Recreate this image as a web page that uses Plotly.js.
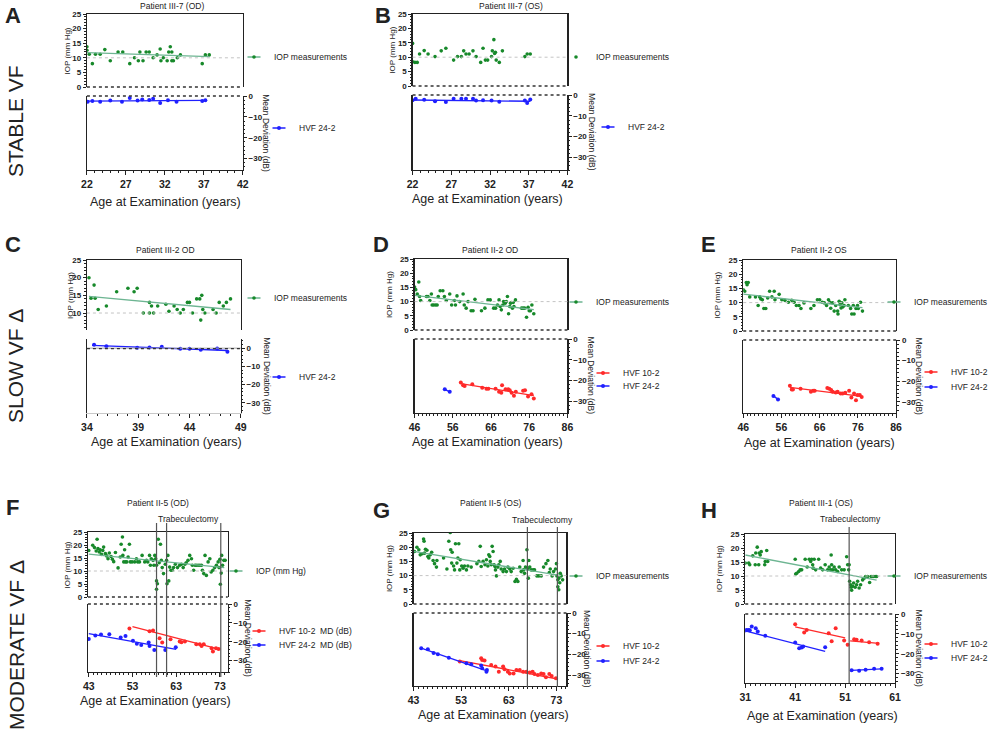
<!DOCTYPE html>
<html lang="en">
<head>
<meta charset="UTF-8">
<title>IOP and visual field over age</title>
<script src="https://cdn.plot.ly/plotly-3.0.1.min.js"></script>
<style>
    body { margin: 0; background: white; }
    #chart { width: 993px; height: 736px; }
</style>
</head>
<body>
<div id="chart"></div>
<script>
// ---------- values ----------
// A: Patient III-7 (OD)
const aIopAge = [22,22,22.3,22.7,23.1,23.7,24.3,25,26,26.6,27.5,28.1,28.6,28.8,29.2,29.6,30,30.5,31,31.4,31.5,31.8,32.3,32.5,32.7,32.9,32.9,33.1,33.6,34,36.8,37.2,37.7];
const aIopVal = [13.8,12.6,11.2,8,11.2,11.2,12.8,9,12,12,8,10,9,12,9,12,12,10,11,13,9,10,9,12,13.8,12,9,9,10,11,8,11,11];
const aIopFitAge = [22, 37.7];
const aIopFitVal = [11.8, 10.4];
const a24Age = [22.1,22.7,23.7,25,26.5,27.5,28.5,29.1,30,30.5,31.4,32.4,33.5,36.8,37.2];
const a24Val = [-2.7,-2.4,-2.8,-2.2,-2.7,-1,-2.2,-1.7,-1.9,-1.3,-3.3,-2,-2.8,-2.4,-2];
const a24FitAge = [22, 37.2];
const a24FitVal = [-2.5, -2.1];

// B: Patient III-7 (OS)
const bIopAge = [22,22,22.3,22.6,22.9,23.5,24,24.9,25.7,26.3,27.3,27.8,28.3,28.6,28.9,29.3,29.8,30.2,30.8,31.1,31.4,31.7,32.2,32.3,32.5,32.6,32.7,32.8,33.2,33.6,36.5,36.8,37.2];
const bIopVal = [14.8,8.4,8.2,8.2,11.1,12.3,11.1,10.2,12.2,13.1,9,10.2,10.2,12.2,11.1,11.1,12.2,10.2,8.2,13.1,9,9,10.2,12.2,16.1,11.3,11.7,9,8.2,12.2,10.2,11.1,11.1];
const b24Age = [22,22.4,23.5,24.9,26.3,27.3,28.3,28.9,29.8,30.2,31.1,32.2,33.2,36.5,36.8,37.2];
const b24Val = [-2.5,-1.8,-2.3,-3,-3.4,-1.8,-1.8,-1.8,-1.8,-2.6,-2.5,-2.6,-3.3,-2.6,-3.8,-2.1];
const b24FitAge = [22, 37.2];
const b24FitVal = [-2.4, -3];

// C: Patient III-2 OD
const cIopAge = [34.2,34.4,34.7,34.8,35.1,35.9,36.9,38,38.6,38.9,39.5,40.1,40.1,40.3,40.5,40.9,41.7,42,42.5,42.8,43.1,43.4,43.8,44,44.3,44.7,45,45.1,45.2,45.3,45.5,46.3,46.6,46.9,47.3,47.6,48];
const cIopVal = [20,14.2,17.9,14.2,11,12,16,17,16,17,10,10,13,12,10,12,12.5,10.5,12,11,10,11,13,13,10,14,14,8,15,11,10,11,10,13,12,13,14];
const cIopFitAge = [34.2, 48];
const cIopFitVal = [14.7, 11];
const c24Age = [34.7,35.9,38.9,40.1,41.3,43.1,44,45.1,46.7,47.7];
const c24Val = [1.8,1.1,0.2,0.4,0.7,-0.4,-0.4,-0.9,-0.2,-2];
const c24FitAge = [34.5, 47.7];
const c24FitVal = [1.5, -1.3];

// D: Patient II-2 OD
const dIopAge = [46,46.3,46.7,47.1,47.3,47.6,49.1,49.5,50,50.4,50.6,51,51.5,51.9,52.2,52.7,53.4,53.8,54.3,55.2,55.7,56.4,56.7,57.1,57.8,58.7,59,59.5,60,60.8,61.3,61.8,63.5,64.4,65.2,65.8,66.7,67.2,67.7,68.1,68.4,68.7,69.1,69.3,69.7,70,70.3,70.6,70.9,71.1,71.3,71.6,71.8,72,72.4,74,74.4,74.8,75.3,75.7,76,76.3,76.7,77.2];
const dIopVal = [15.1,14.2,12.7,16.9,11.8,10.4,11.8,11.8,10.4,12.7,8.8,8.8,8.8,8.8,11.8,13.8,13.8,11.8,10.4,12.7,8.8,10.4,8.8,12,10,12.7,8.8,7.7,10,6.8,6.8,10.8,6.8,7.7,10.6,10.6,7.7,7.7,8.8,10.6,8.3,7.1,8.8,10,9.4,10,11.8,5.7,8.3,9.4,9.7,7.7,9.7,8.3,10.6,7.7,7.7,7.7,4.5,8,6.8,6.8,8.8,5.7];
const dIopFitAge = [46, 77.2];
const dIopFitVal = [12.2, 7.2];
const d10Age = [58.1,58.7,59.1,61.1,63.7,64.8,65.3,67.2,68.1,68.7,68.9,69.8,70.5,70.9,71.4,72,72.5,74.4,74.9,75.7,76.6,77.2];
const d10Val = [-20.9,-22.2,-22.6,-21.8,-23.4,-23.9,-23.9,-23.9,-25.4,-25.8,-22.3,-24.2,-24.2,-24.6,-25.8,-27.3,-25.4,-24.9,-24.6,-27.7,-26.6,-28.6];
const d10FitAge = [58.1, 77.2];
const d10FitVal = [-21.5, -27.2];
const d24Age = [53.9, 55.2];
const d24Val = [-24.2, -25.4];

// E: Patient II-2 OS
const eIopAge = [46,46.4,46.8,47,47.3,47.7,49.2,49.9,50.3,50.6,51,51.4,51.9,52.4,52.9,53.5,54.1,54.3,55.4,56.1,56.9,57.8,58.7,59.3,59.9,60.6,61.1,61.9,63.7,64.5,65.4,66,66.7,67.2,67.8,68.3,68.7,68.9,69.4,69.8,70.2,70.7,70.8,71.1,71.3,71.6,71.8,72.1,72.4,72.6,73.5,74.1,74.4,74.8,75,75.5,75.9,76.1,76.7,77.2];
const eIopVal = [14.5,14,17.1,16.3,17.1,12,12,9,12,11.3,11,7.9,7.9,11.6,14,12,14,11,12.9,11,10.8,10.1,10.8,10.1,9,9,7.9,9.9,7.9,9,11,11,10.1,9.9,9,11,10.1,8,9.9,7,9,7,6,10.5,9.3,8.1,9.9,8.5,9,11,9,7.9,6,9,6,7.9,9,7.9,10.1,7];
const eIopFitAge = [46, 77.2];
const eIopFitVal = [13, 8.2];
const e10Age = [58.2,58.7,59,61,63.7,64.3,64.7,68,68.5,69,69.4,70.2,70.7,71.5,72,72.7,73.7,74.3,75,75.5,75.9,76.5,77];
const e10Val = [-22.2,-24,-24,-23.7,-25.1,-24.6,-24.6,-23.3,-23.7,-24.3,-25.1,-25.4,-25.1,-25.9,-25.9,-25.6,-24.6,-27.9,-25.9,-29.2,-26.7,-26.7,-27.6];
const e10FitAge = [58.2, 77];
const e10FitVal = [-23, -27.3];
const e24Age = [53.9, 55.1];
const e24Val = [-27.1, -28.8];

// F: Patient II-5 (OD)
const fIopAge = [43,43.9,44.3,44.7,44.9,45.1,45.4,45.6,45.9,46.2,46.4,46.8,47.1,47.4,47.7,48.1,48.4,48.7,49.1,49.7,50.2,50.4,50.7,50.8,51,51.2,51.4,51.7,52,52.3,52.5,52.9,53.5,53.9,54.2,54.6,55.2,55.8,56.2,56.5,56.9,57.1,57.3,57.7,57.9,58.1,58.3,58.5,58.5,58.5,58.7,58.9,59.1,59.4,59.6,59.8,60.1,60.5,60.8,60.9,61.1,61.3,61.5,61.8,62.1,62.4,62.8,63.3,63.8,64.2,64.6,65,65.3,65.7,66.1,66.5,66.7,67,67.3,67.6,68,68.4,68.8,69,69.3,69.6,69.9,70.3,70.7,71,71.4,71.8,72.2,72.6,72.8,73,73.1,73.3,73.4,73.6,73.9,74.2];
const fIopVal = [17.9,19.9,19,17.7,22.2,18.6,17.3,18.2,16.4,17.9,19.2,16.7,15.8,14.7,16.9,15.6,14.5,13.6,17.1,11.2,15.4,20.3,23.1,16,13.5,18.2,13.5,13.5,15.4,20.3,13.5,13.5,13.5,14.7,13.5,13.5,16,13.5,14.1,13.5,16,12.2,14.7,14.1,12.2,16,14.7,12.2,6.2,3,5.1,22.2,13.2,20.3,14.1,11.3,9,12.6,14.1,5.1,16,6.2,11.5,10.3,10.3,11.3,12.6,11.3,12.2,12.6,11.3,12.6,13.2,14.1,16,14.7,12.2,10.3,12.2,12.2,12.2,12.2,12.2,10.3,9,16,8.3,13.5,14.7,9.6,10.3,11.3,12.2,13.5,11.3,14.5,4.9,9.2,16,12.2,14.1,14.1];
const fIopFitAge = [43, 74];
const fIopFitVal = [16.5, 11.3];
const f10Age = [52.3,56.9,57.7,59.2,59.8,61.7,63.8,64.2,65,67.6,68.4,68.8,69.3,71.1,71.4,72.1,72.7];
const f10Val = [-13,-14.4,-14,-18.1,-20.4,-18.7,-19.9,-20.2,-19.9,-21.3,-21.3,-22.2,-21.3,-23.4,-25.2,-23.4,-23.8];
const f10FitAge = [53, 73];
const f10FitVal = [-12, -24];
const f24Age = [43,44.5,45.8,47.7,50.3,51.4,53.1,54,55,56.7,56.9,58,60.5,62.9];
const f24Val = [-18.5,-16.7,-16.2,-16,-17.8,-16.9,-19.4,-21.1,-21.7,-20.4,-22.2,-24.3,-24.3,-22.9];
const f24FitAge = [43, 63];
const f24FitVal = [-15.7, -24];
const fSurgeryAge = [58.5, 60.8, 73.2];

// G: Patient II-5 (OS)
const gIopAge = [43.2,43.7,44.1,44.4,44.8,45.1,45.2,45.3,45.5,45.8,46,46.2,46.5,46.8,47.1,47.4,47.8,47.9,49.3,50,50.4,50.7,50.8,51,51.1,51.4,51.6,51.8,52.1,52.3,52.5,52.7,52.8,53.1,53.4,53.7,54.1,54.4,55.1,56.3,56.7,57,57.2,57.6,58,58.3,58.6,58.8,59,59.1,59.3,59.5,59.7,59.9,60.1,60.2,60.4,60.7,60.9,61.2,61.4,61.8,62.1,62.5,62.8,63.2,63.5,63.9,64.3,64.6,64.9,65.3,65.6,66,66.1,66.3,66.5,66.8,67,67.1,67.2,67.4,67.7,68.1,68.4,68.9,69.3,69.8,70.3,70.8,71.2,71.5,71.7,72.1,72.4,72.8,73,73.1,73.3,73.3,73.5,73.5,73.7,73.8,74,74.3];
const gIopVal = [18.5,20,19.1,17.3,17.7,22.9,22.1,17.9,19.3,18.9,16.7,16.2,17.3,18.2,15.3,14.2,13,15.3,16.2,12.3,22.1,25.2,19.1,14.4,18.2,13.4,12,21.2,14.4,16.2,21.2,12,15.6,13.4,12.6,13.4,12,13.4,13,14.2,15,20.3,13.2,15,13.8,15.6,13.4,17.3,16.7,15,13.8,20.3,18.5,13.8,13.2,12,9.9,13,13.8,15,12.3,11.4,12.3,11.4,13,12.3,11.4,12.6,7.9,8.7,7.9,13,11.4,15.3,12,10.8,13,19.1,12.3,9.1,15.3,13,12,12,12,9.9,9.9,9.9,13,14.2,15.3,11.1,12.3,9.9,11.4,12.3,14.2,9.9,8.5,6.1,9.1,5,7.5,10.8,9.9,8.5];
const gIopFitAge = [43, 74];
const gIopFitVal = [18.5, 10];
const g10Age = [52.7,57.2,57.4,57.9,59.3,60.2,60.9,61.8,62.1,62.8,63.2,64,64.6,65.3,66,66.7,67.4,68,68.4,69.1,69.8,70.3,70.8,71.5,72,72.9];
const g10Val = [-23.5,-21.9,-22.7,-23,-25.1,-25.9,-28.4,-25.9,-27.2,-28.4,-29.2,-29.2,-27.6,-27.6,-28.4,-28.4,-28.8,-28.4,-29.5,-30,-29.2,-29.5,-31.1,-29.5,-30.5,-31.6];
const g10FitAge = [52.7, 73];
const g10FitVal = [-23, -31.8];
const g24Age = [44.6,46,47.2,48.1,50.4,54.1,55.1,57.2,57.4,58.3,58.4];
const g24Val = [-17,-17.5,-19.4,-19.9,-21.6,-24.3,-24.8,-25.4,-26.7,-28.4,-27.6];
const g24FitAge = [44.6, 58.4];
const g24FitVal = [-17, -28];
const gSurgeryAge = [66.9, 73.2];

// H: Patient III-1 (OS)
const hIopAge = [31,31.7,31.9,32.5,33,33.1,33.4,33.7,33.8,34,34.2,34.9,35,35.3,35.5,41,41.1,41.3,41.7,42,42.3,43,43.4,43.8,44.1,44.3,44.5,44.6,44.8,45.1,45.7,46.1,46.5,47,47.5,47.8,48.1,48.2,48.3,48.5,48.8,49.1,49.5,49.8,50.3,50.8,51.3,51.5,51.7,51.8,51.9,52.1,52.2,52.3,52.5,52.7,53,53.3,53.5,53.8,54.1,54.5,54.8,55.1,55.5,55.9,56.2,56.6,57,57.3];
const hIopVal = [14.6,14.6,14,17.2,14,18.2,20.3,14,18.2,17.5,18.7,14,15.2,19.1,15.2,16,10.7,11,11.6,12.2,12.2,16,13.2,16,15.2,16,14,12.8,16,12.2,16,12.8,12.2,14,12.2,13.2,12.2,17.5,14,12.2,13.2,12.2,11.6,13.2,12.2,12.2,16.9,14,12.2,14,8.1,6.9,6,4.9,6.3,7.5,6,6.9,8.1,5.7,6.9,8.6,9.2,9.8,9.8,7.7,9.8,9.8,9.8,9.8];
const hIopFitAge = [31, 57.3];
const hIopFitVal = [17.5, 8.5];
const h10Age = [41,42.8,43.3,47.7,48.3,49.1,50.8,51.5,52.8,53.3,54.3,55.8,57.5];
const h10Val = [-5.2,-9.3,-8,-9.7,-13.7,-7.2,-13.3,-15.5,-12.7,-13,-13.3,-14.2,-15];
const h10FitAge = [41, 51, null, 52, 57.8];      // before / after surgery
const h10FitVal = [-6.5, -12, null, -13.5, -14.8];
const h24Age = [31,31.3,31.7,31.9,32.3,33.1,33.5,35,41,41.8,42.3,42.6,47,52.3,53.8,55.1,56.8,58.3];
const h24Val = [-8.3,-8,-8,-8.2,-6.3,-7.2,-8.8,-11,-14.3,-17.2,-16.8,-16.3,-16.7,-28.3,-28.5,-28,-27.5,-27.5];
const h24FitAge = [31, 47, null, 52.3, 58.3];
const h24FitVal = [-8.5, -18.8, null, -28.4, -27.6];
const hSurgeryAge = [51.8];

const rowLabels = ['STABLE VF', 'SLOW VF \u0394', 'MODERATE VF \u0394'];

// ---------- styling / placement ----------
const W = 993, H = 736;
const FONT = 'Arial, "Liberation Sans", sans-serif';
const LEGEND_SIZE = 8.5;
const GREEN = '#17892a', GREEN_FIT = '#6db592';
const BLUE = '#2020ff', RED = '#ff2a2a';
const INK = '#222';
// legend key: only the middle 13px of plotly's 30px key line is drawn
const KEY_DASH = '0px,8.5px,13px,100px';

function px(x) { return x / W; }
function py(y) { return 1 - y / H; }

const iop = (x, y, fx, fy, name, at) => ({ sub: 'top', name, x, y, color: GREEN, fitX: fx, fitY: fy, fitColor: GREEN_FIT, at });
const md = (x, y, fx, fy, name, color, at) => ({ sub: 'bot', name, x, y, color, fitX: fx, fitY: fy, fitColor: color, at });

const panels = [
    { letter: 'A', letterAt: [13, 16], title: 'Patient III-7 (OD)', titleAt: [172, 6],
      L: 87, R: 243, top: [14, 87], bot: [96, 170], xRange: [22, 42], tick0: 22, dtick: 5,
      iopRange: [0, 25], mdRange: [-35.5, 0], leftT: 68, rightT: 266, xTitleAt: [166, 202],
      series: [iop(aIopAge, aIopVal, aIopFitAge, aIopFitVal, 'IOP measurements', [268, 57]),
               md(a24Age, a24Val, a24FitAge, a24FitVal, 'HVF 24-2', BLUE, [293, 128])] },
    { letter: 'B', letterAt: [383, 16], title: 'Patient III-7 (OS)', titleAt: [512, 6],
      L: 413, R: 568, top: [14, 86], bot: [95, 170], xRange: [22, 42], tick0: 22, dtick: 5,
      iopRange: [0, 25], mdRange: [-36, 0], leftT: 392, rightT: 593, xTitleAt: [488, 199],
      series: [iop(bIopAge, bIopVal, null, null, 'IOP measurements', [590, 57]),
               md(b24Age, b24Val, b24FitAge, b24FitVal, 'HVF 24-2', BLUE, [622, 127])] },
    { letter: 'C', letterAt: [13, 245], title: 'Patient III-2 OD', titleAt: [166, 250],
      L: 87, R: 241, top: [260, 330], bot: [339, 413], xRange: [34, 49], tick0: 34, dtick: 5,
      iopRange: [5.2, 25], mdRange: [-35.5, 5], leftT: 70, rightT: 267, xTitleAt: [167, 442],
      broken: false, zeroLine: true,
      series: [iop(cIopAge, cIopVal, cIopFitAge, cIopFitVal, 'IOP measurements', [268, 298]),
               md(c24Age, c24Val, c24FitAge, c24FitVal, 'HVF 24-2', BLUE, [293, 377])] },
    { letter: 'D', letterAt: [381, 245], title: 'Patient II-2 OD', titleAt: [490, 250],
      L: 415, R: 568, top: [259, 330], bot: [339, 413], xRange: [46, 86], tick0: 46, dtick: 10,
      iopRange: [0, 25], mdRange: [-35.6, 0], leftT: 390, rightT: 592, xTitleAt: [488, 442],
      series: [iop(dIopAge, dIopVal, dIopFitAge, dIopFitVal, 'IOP measurements', [590, 302]),
               md(d10Age, d10Val, d10FitAge, d10FitVal, 'HVF 10-2', RED, [617, 373]),
               md(d24Age, d24Val, d24Age, d24Val, 'HVF 24-2', BLUE, [617, 386])] },
    { letter: 'E', letterAt: [709, 245], title: 'Patient II-2 OS', titleAt: [820, 250],
      L: 744, R: 897, top: [260, 331], bot: [340, 413], xRange: [46, 86], tick0: 46, dtick: 10,
      iopRange: [0, 25], mdRange: [-35.4, 0], leftT: 718, rightT: 920, xTitleAt: [820, 443],
      series: [iop(eIopAge, eIopVal, eIopFitAge, eIopFitVal, 'IOP measurements', [922, 302]),
               md(e10Age, e10Val, e10FitAge, e10FitVal, 'HVF 10-2', RED, [948, 372]),
               md(e24Age, e24Val, e24Age, e24Val, 'HVF 24-2', BLUE, [948, 387])] },
    { letter: 'F', letterAt: [13, 508], title: 'Patient II-5 (OD)', titleAt: [158, 503],
      L: 88, R: 228, top: [532, 597], bot: [604, 672], xRange: [42.8, 74.8], tick0: 43, dtick: 10,
      iopRange: [0, 25], mdRange: [-36, 0], leftT: 68, rightT: 248, xTitleAt: [156, 701],
      surgery: fSurgeryAge, surgerySpan: [523, 677], trabAt: [189, 519],
      series: [iop(fIopAge, fIopVal, fIopFitAge, fIopFitVal, 'IOP (mm Hg)', [250, 571]),
               md(f10Age, f10Val, f10FitAge, f10FitVal, 'HVF 10-2  MD (dB)', RED, [273, 631]),
               md(f24Age, f24Val, f24FitAge, f24FitVal, 'HVF 24-2  MD (dB)', BLUE, [273, 645])] },
    { letter: 'G', letterAt: [382, 510], title: 'Patient II-5 (OS)', titleAt: [491, 503],
      L: 414, R: 567, top: [533, 604], bot: [613, 686], xRange: [43, 75.1], tick0: 43, dtick: 10,
      iopRange: [0, 25], mdRange: [-35.3, 0], leftT: 390, rightT: 588, xTitleAt: [494, 715],
      surgery: gSurgeryAge, surgerySpan: [527, 687], trabAt: [543, 520],
      series: [iop(gIopAge, gIopVal, gIopFitAge, gIopFitVal, 'IOP measurements', [590, 576]),
               md(g10Age, g10Val, g10FitAge, g10FitVal, 'HVF 10-2', RED, [617, 646]),
               md(g24Age, g24Val, g24FitAge, g24FitVal, 'HVF 24-2', BLUE, [617, 661])] },
    { letter: 'H', letterAt: [710, 510], title: 'Patient III-1 (OS)', titleAt: [822, 503],
      L: 746, R: 896, top: [534, 604], bot: [614, 683], xRange: [31, 61], tick0: 31, dtick: 10,
      iopRange: [0, 25], mdRange: [-34.7, 0], leftT: 720, rightT: 920, xTitleAt: [823, 716],
      surgery: hSurgeryAge, surgerySpan: [527, 683], trabAt: [851, 519],
      series: [iop(hIopAge, hIopVal, hIopFitAge, hIopFitVal, 'IOP measurements', [913, 576]),
               md(h10Age, h10Val, h10FitAge, h10FitVal, 'HVF 10-2', RED, [948, 644]),
               md(h24Age, h24Val, h24FitAge, h24FitVal, 'HVF 24-2', BLUE, [948, 658])] }
];
const rowLabelAt = [[16, 121], [16, 366], [16, 645]];

// ---------- build the figure ----------
const traces = [];
const layout = {
    width: W, height: H,
    margin: { l: 0, r: 0, t: 0, b: 0 },
    paper_bgcolor: 'white',
    plot_bgcolor: 'rgba(0,0,0,0)',
    font: { family: FONT, color: INK },
    showlegend: true,
    annotations: [],
    shapes: []
};

function suffix(n) { return n === 1 ? '' : String(n); }
function text(str, x, y, size, opts) {
    layout.annotations.push(Object.assign({
        text: str, xref: 'paper', yref: 'paper', x: px(x), y: py(y),
        xanchor: 'center', yanchor: 'middle', showarrow: false,
        font: { family: FONT, size: size, color: INK }
    }, opts || {}));
}

// one small legend per series. A legend that pokes out of the paper would push the
// margins and squeeze every panel, so the ones at the right edge are pulled back in.
let legendNo = 0;
function newLegend(at, name) {
    legendNo += 1;
    const id = 'legend' + suffix(legendNo);
    const approxWidth = 40 + 0.55 * LEGEND_SIZE * name.length + 4;
    const left = Math.min(at[0] - 34, W - approxWidth);
    layout[id] = {
        x: px(left), y: py(at[1]), xanchor: 'left', yanchor: 'middle',
        bgcolor: 'rgba(0,0,0,0)', borderwidth: 0, itemwidth: 30,
        font: { family: FONT, size: LEGEND_SIZE, color: INK }
    };
    return id;
}

const tickFont = size => ({ family: FONT, size: size, color: INK, weight: 'bold' });

panels.forEach((p, i) => {
    const t = 2 * i + 1, b = 2 * i + 2;
    const st = suffix(t), sb = suffix(b);
    const xDom = [px(p.L), px(p.R)];

    layout['xaxis' + st] = {
        domain: xDom, range: p.xRange, anchor: 'y' + st, side: 'top',
        showline: true, linecolor: INK, linewidth: 1.2,
        ticks: '', showticklabels: false, showgrid: false, zeroline: false
    };
    layout['yaxis' + st] = {
        domain: [py(p.top[1]), py(p.top[0])], range: p.iopRange, anchor: 'x' + st,
        side: 'left', showline: true, mirror: true, linecolor: INK, linewidth: 1.2,
        ticks: 'outside', ticklen: 3, tickcolor: INK, tick0: 0, dtick: 5,
        minor: { ticks: 'outside', ticklen: 1.5, dtick: 1, tickcolor: INK },
        tickfont: tickFont(8), showgrid: false, zeroline: false
    };
    layout['xaxis' + sb] = {
        domain: xDom, range: p.xRange, anchor: 'y' + sb, side: 'bottom',
        showline: true, linecolor: p.broken === false ? '#c8c8c8' : INK, linewidth: 1.2,
        ticks: 'outside', ticklen: 4, tickcolor: INK, tick0: p.tick0, dtick: p.dtick,
        minor: { ticks: 'outside', ticklen: 2, dtick: 1, tickcolor: INK },
        tickfont: tickFont(10.5), showgrid: false, zeroline: false
    };
    layout['yaxis' + sb] = {
        domain: [py(p.bot[1]), py(p.bot[0])], range: p.mdRange, anchor: 'x' + sb,
        side: 'right', showline: true, mirror: true, linecolor: INK, linewidth: 1.2,
        ticks: 'outside', ticklen: 3, tickcolor: INK, tick0: 0, dtick: 10,
        minor: { ticks: 'outside', ticklen: 1.5, dtick: 2, tickcolor: INK },
        tickfont: tickFont(8), showgrid: false, zeroline: false
    };

    // reference line at IOP 10 mm Hg
    layout.shapes.push({ type: 'line', xref: 'x' + st + ' domain', yref: 'y' + st,
        x0: 0, x1: 1, y0: 10, y1: 10, line: { color: '#c4c4c4', width: 1, dash: 'dot' } });
    if (p.broken !== false) {
        layout.shapes.push({ type: 'line', xref: 'x' + st + ' domain', yref: 'y' + st + ' domain',
            x0: 0, x1: 1, y0: 0, y1: 0, line: { color: '#333', width: 1.5, dash: 'dot' } });
        layout.shapes.push({ type: 'line', xref: 'x' + sb + ' domain', yref: 'y' + sb + ' domain',
            x0: 0, x1: 1, y0: 1, y1: 1, line: { color: '#333', width: 1.5, dash: 'dot' } });
    }
    if (p.zeroLine) {
        layout.shapes.push({ type: 'line', xref: 'x' + sb + ' domain', yref: 'y' + sb,
            x0: 0, x1: 1, y0: 0, y1: 0, line: { color: '#aaa', width: 1 } });
        layout.shapes.push({ type: 'line', xref: 'x' + sb + ' domain', yref: 'y' + sb,
            x0: 0, x1: 1, y0: -0.3, y1: -0.3, line: { color: '#333', width: 1.2, dash: 'dot' } });
    }
    (p.surgery || []).forEach(age => {
        layout.shapes.push({ type: 'line', xref: 'x' + sb, yref: 'paper',
            x0: age, x1: age, y0: py(p.surgerySpan[1]), y1: py(p.surgerySpan[0]),
            line: { color: '#555', width: 1.2 } });
    });

    // data points, fitted lines, and a point-less trace that only carries the legend key
    p.series.forEach(s => {
        const sfx = s.sub === 'top' ? st : sb;
        const size = s.sub === 'top' ? 3.6 : 4;
        const joined = s.fitX === s.x;
        traces.push({
            type: 'scatter', mode: joined ? 'lines+markers' : 'markers', x: s.x, y: s.y,
            xaxis: 'x' + sfx, yaxis: 'y' + sfx, name: s.name,
            marker: { color: s.color, size: size },
            line: { color: s.fitColor, width: 1.3 },
            showlegend: false, hoverinfo: 'skip'
        });
        if (s.fitX && !joined) {
            traces.push({
                type: 'scatter', mode: 'lines', x: s.fitX, y: s.fitY,
                xaxis: 'x' + sfx, yaxis: 'y' + sfx, name: s.name + ' fit',
                line: { color: s.fitColor, width: 1.3 },
                showlegend: false, hoverinfo: 'skip'
            });
        }
        traces.push({
            type: 'scatter', mode: s.fitX ? 'lines+markers' : 'markers', x: [null], y: [null],
            xaxis: 'x' + sfx, yaxis: 'y' + sfx, name: s.name,
            marker: { color: s.color, size: size },
            line: { color: s.fitColor, width: 1.3, dash: KEY_DASH },
            showlegend: true, legend: newLegend(s.at, s.name), hoverinfo: 'skip'
        });
    });

    // text
    text('<b>' + p.letter + '</b>', p.letterAt[0], p.letterAt[1], 22);
    text(p.title, p.titleAt[0], p.titleAt[1], 8.5);
    if (p.trabAt) text('Trabeculectomy', p.trabAt[0], p.trabAt[1], 8.5);
    text('IOP (mm Hg)', p.leftT, (p.top[0] + p.top[1]) / 2, 8, { textangle: -90 });
    text('Mean Deviation (dB)', p.rightT, (p.bot[0] + p.bot[1]) / 2, 8.5, { textangle: 90 });
    text('Age at Examination (years)', p.xTitleAt[0], p.xTitleAt[1], 12.5);
});

rowLabels.forEach((lab, i) => {
    text(lab, rowLabelAt[i][0], rowLabelAt[i][1], 21, { textangle: -90 });
});

Plotly.newPlot('chart', traces, layout, { staticPlot: true, displayModeBar: false });
</script>
</body>
</html>
